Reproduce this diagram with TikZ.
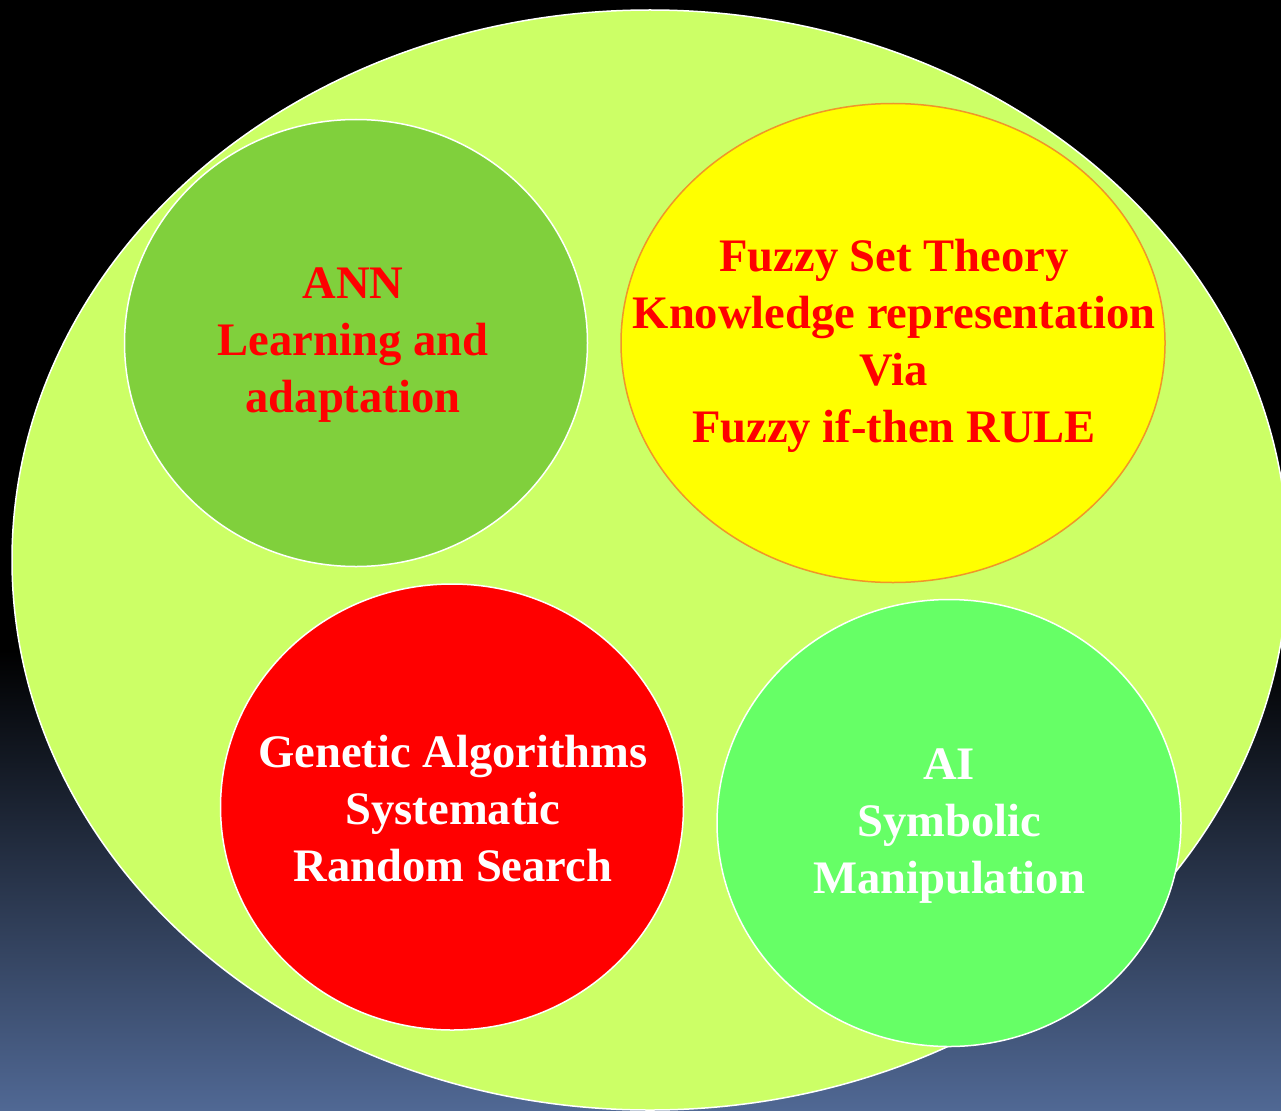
\documentclass[tikz,border=0pt]{standalone}
\usepackage{fontspec}
\setmainfont{Liberation Serif}
\usetikzlibrary{shapes.geometric}
\definecolor{bgblue}{RGB}{80,104,148}
\definecolor{outergreen}{RGB}{204,255,102}
\definecolor{anngreen}{RGB}{128,208,60}
\definecolor{aigreen}{RGB}{102,255,102}
\definecolor{fuzzyyellow}{RGB}{255,255,0}
\definecolor{fuzzyedge}{RGB}{240,150,40}
\tikzset{
  blob/.style={ellipse, inner sep=0pt, line width=1.5pt},
  label text/.style={align=center, inner sep=0pt,
    font=\fontsize{46.6}{57}\selectfont\bfseries},
}
\begin{document}
\begin{tikzpicture}[x=1pt,y=-1pt]
\useasboundingbox (0,0) rectangle (1281,1110);
\fill[black] (0,0) rectangle (1281,651);
\shade[top color=black,bottom color=bgblue] (0,650) rectangle (1281,1110);
\clip (0,0) rectangle (1281,1110);
\node[ellipse, inner sep=0pt, minimum width=1276pt, minimum height=1100pt,
  fill=outergreen, draw=white, line width=1.5pt] (outer) at (650,560) {};
\node[blob, fill=anngreen, draw=white, minimum width=463pt, minimum height=447pt] (ann) at (356,343) {};
\node[blob, fill=fuzzyyellow, draw=fuzzyedge, minimum width=544pt, minimum height=479pt] (fuzzy) at (893,343) {};
\node[blob, fill=red, draw=white, minimum width=463pt, minimum height=446pt] (ga) at (452,807) {};
\node[blob, fill=aigreen, draw=white, minimum width=464pt, minimum height=447pt] (ai) at (949,823) {};
\node[label text, text=red] (anntext) at ([shift={(-3,2)}]ann.center) {ANN\\Learning and\\adaptation};
\node[label text, text=red] (fuzzytext) at ([shift={(1,3)}]fuzzy.center) {Fuzzy Set Theory\\Knowledge representation\\Via\\Fuzzy if-then RULE};
\node[label text, text=white] (gatext) at ([shift={(1,2)}]ga.center) {Genetic Algorithms\\Systematic\\Random Search};
\node[label text, text=white] (aitext) at ([shift={(0,3)}]ai.center) {AI\\Symbolic\\Manipulation};
\end{tikzpicture}
\end{document}
